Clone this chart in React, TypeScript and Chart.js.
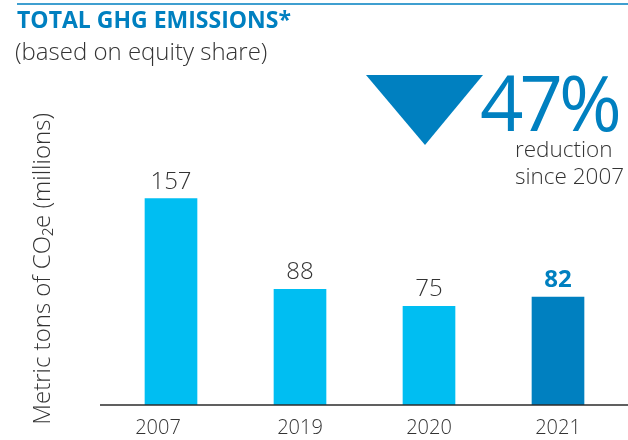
import React, { useEffect, useRef } from "react";
import { Chart, registerables } from "chart.js";

Chart.register(...registerables);

const years = ["2007", "2019", "2020", "2021"];
const emissions = [157, 88, 75, 82];
const highlightIndex = 3;
const yAxisTitle = "Metric tons of CO₂e (millions)";
const titleText = "TOTAL GHG EMISSIONS*";
const subtitleText = "(based on equity share)";
const reductionText = "47%";
const reductionNote = ["reduction", "since 2007"];

const FONT = '"Open Sans", "Noto Sans", sans-serif';
const LIGHT = "#00bef2";
const DARK = "#0080c0";
const TEXT = "#333333";

const overlayPlugin = {
  id: "overlay",
  afterDatasetsDraw(chart: any) {
    const ctx = chart.ctx;
    const meta = chart.getDatasetMeta(0);
    const y0 = chart.scales.y.getPixelForValue(0);
    ctx.save();
    ctx.strokeStyle = "#2b2b2b";
    ctx.lineWidth = 1.5;
    ctx.beginPath();
    ctx.moveTo(100, y0);
    ctx.lineTo(chart.width, y0);
    ctx.stroke();
    ctx.textAlign = "center";
    ctx.textBaseline = "alphabetic";
    meta.data.forEach((bar: any, i: number) => {
      const hi = i === highlightIndex;
      ctx.font = hi ? `bold 24px ${FONT}` : `300 24px ${FONT}`;
      ctx.fillStyle = hi ? DARK : TEXT;
      ctx.fillText(String(emissions[i]), bar.x, bar.y - 10);
    });
    ctx.restore();
  },
};

export default function App() {
  const ref = useRef<HTMLCanvasElement>(null);

  useEffect(() => {
    if (!ref.current) return;
    const chart = new Chart(ref.current, {
      type: "bar",
      data: {
        labels: years,
        datasets: [
          {
            data: emissions,
            backgroundColor: emissions.map((_, i) => (i === highlightIndex ? DARK : LIGHT)),
            barThickness: 52,
            borderWidth: 0,
          },
        ],
      },
      options: {
        animation: false,
        responsive: false,
        layout: { padding: { top: 132.8, right: 5.5, bottom: 0, left: 0 } },
        plugins: { legend: { display: false }, tooltip: { enabled: false } },
        scales: {
          x: {
            grid: { display: false },
            border: { display: false },
            ticks: {
              color: TEXT,
              font: { family: FONT, size: 20, weight: "300" },
              padding: 3,
              callback: (_v: any, i: number) => (i === 0 ? years[i] + "     " : years[i]),
            },
            afterFit: (s: any) => {
              s.height = 35;
            },
          },
          y: {
            min: 0,
            max: 207,
            grid: { display: false },
            border: { display: false },
            ticks: { display: false },
            title: {
              display: true,
              text: yAxisTitle,
              color: TEXT,
              font: { family: FONT, size: 24, weight: "300" },
              padding: { top: 28.3, bottom: 0 },
            },
            afterFit: (s: any) => {
              s.width = 106.5;
            },
          },
        },
      },
      plugins: [overlayPlugin],
    });
    return () => chart.destroy();
  }, []);

  return (
    <div
      style={{
        position: "absolute",
        left: 0,
        top: 0,
        width: 628,
        height: 440,
        background: "#fff",
        overflow: "hidden",
        fontFamily: FONT,
      }}
    >
      <canvas ref={ref} width={628} height={440} style={{ display: "block", position: "absolute", left: 0, top: 0 }} />
      <div style={{ position: "absolute", left: 17, right: 0, top: 3, height: 2, background: "#3f9fd0" }} />
      <div
        style={{
          position: "absolute",
          left: 17,
          top: 8,
          fontSize: 23,
          lineHeight: "23px",
          fontWeight: 700,
          color: DARK,
          whiteSpace: "nowrap",
        }}
      >
        {titleText}
      </div>
      <div
        style={{
          position: "absolute",
          left: 15,
          top: 38.7,
          fontSize: 24,
          lineHeight: "24px",
          fontWeight: 300,
          color: TEXT,
          whiteSpace: "nowrap",
        }}
      >
        {subtitleText}
      </div>
      <svg style={{ position: "absolute", left: 0, top: 0 }} width={628} height={440}>
        <polygon points="366,75 483,75 425,145" fill={DARK} />
      </svg>
      <div
        style={{
          position: "absolute",
          left: 480,
          top: 63.5,
          fontSize: 76,
          lineHeight: "76px",
          color: DARK,
          letterSpacing: -4,
          whiteSpace: "nowrap",
        }}
      >
        {reductionText}
      </div>
      <div
        style={{
          position: "absolute",
          left: 515,
          top: 134.75,
          fontSize: 22.5,
          lineHeight: "27px",
          fontWeight: 300,
          color: TEXT,
          whiteSpace: "nowrap",
        }}
      >
        {reductionNote.map((t) => (
          <div key={t}>{t}</div>
        ))}
      </div>
    </div>
  );
}
